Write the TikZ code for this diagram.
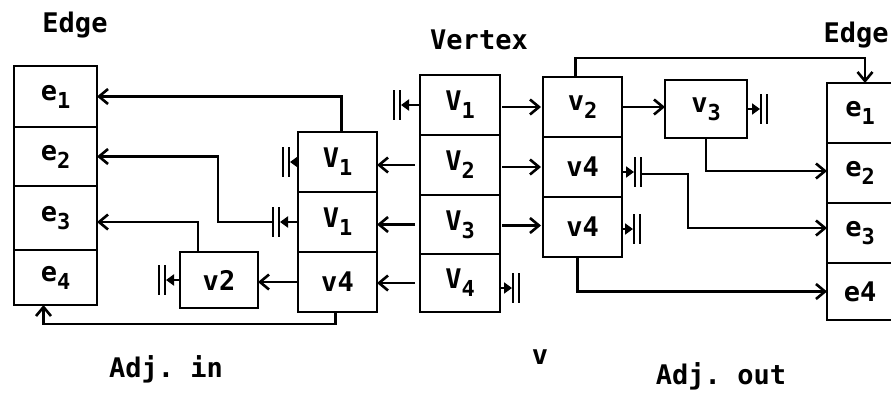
\documentclass[tikz,border=0pt]{standalone}
\usepackage{fontspec}
\setmonofont{DejaVu Sans Mono}
\usetikzlibrary{arrows.meta}
\newcommand{\lowr}[1]{\raisebox{-0.3em}{\fontsize{22}{22}\selectfont #1}}
\newcommand{\cellnode}[6]{\node[cell,minimum width=#4pt,minimum height=#5pt] (#1) at (#2,#3) {#6};}
\newcommand{\barsl}[1]{\draw[bar] ([xshift=-1pt]#1) +(0,-15) -- +(0,15); \draw[bar] ([xshift=-7pt]#1) +(0,-15) -- +(0,15);}
\newcommand{\barsr}[1]{\draw[bar] ([xshift=1pt]#1) +(0,-15) -- +(0,15); \draw[bar] ([xshift=7pt]#1) +(0,-15) -- +(0,15);}
\begin{document}
\begin{tikzpicture}[x=1pt,y=-1pt,
  cell/.style={draw,line width=2.8pt,anchor=north west,inner sep=0pt,outer sep=0pt,font=\ttfamily\bfseries\fontsize{27}{27}\selectfont},
  lbl/.style={font=\ttfamily\bfseries\fontsize{27}{27}\selectfont,inner sep=0pt},
  arr/.style={line width=2.6pt,-{Straight Barb[length=9pt,width=15pt,line width=2.6pt]}},
  narr/.style={line width=2.6pt,-{Triangle[length=8pt,width=11pt]}},
  bar/.style={line width=2.8pt},
]
\useasboundingbox (0,0) rectangle (891,399);
\clip (0,0) rectangle (891,399);

% Edge (left)
\cellnode{e1}{14}{66}{83}{61}{e\lowr{1}}
\cellnode{e2}{14}{127}{83}{59}{e\lowr{2}}
\cellnode{e3}{14}{186}{83}{64}{e\lowr{3}}
\cellnode{e4}{14}{250}{83}{55}{e\lowr{4}}

% Adj. in
\cellnode{a1}{298}{132}{79}{60}{V\lowr{1}}
\cellnode{a2}{298}{192}{79}{60}{V\lowr{1}}
\cellnode{a3}{298}{252}{79}{60}{v4}
\cellnode{vb}{180}{252}{78}{56}{v2}

% Vertex
\cellnode{V1}{420}{75}{80}{60}{V\lowr{1}}
\cellnode{V2}{420}{135}{80}{60}{V\lowr{2}}
\cellnode{V3}{420}{195}{80}{59}{V\lowr{3}}
\cellnode{V4}{420}{254}{80}{58}{V\lowr{4}}

% Adj. out
\cellnode{o1}{543}{77}{79}{60}{v\lowr{2}}
\cellnode{o2}{543}{137}{79}{60}{v4}
\cellnode{o3}{543}{197}{79}{60}{v4}
\cellnode{w3}{665}{80}{82}{58}{v\lowr{3}}

% Edge (right)
\cellnode{r1}{827}{83}{66}{60}{e\lowr{1}}
\cellnode{r2}{827}{143}{66}{60}{e\lowr{2}}
\cellnode{r3}{827}{203}{66}{60}{e\lowr{3}}
\cellnode{r4}{827}{263}{66}{57}{e4}

% labels
\node[lbl] (tE1) at (75,25) {Edge};
\node[lbl] (tV) at (479,40) {Vertex};
\node[lbl] (tE2) at (856,35) {Edge};
\node[lbl] (tv) at (540,357) {v};
\node[lbl] (tin) at (166,369) {Adj. in};
\node[lbl] (tout) at (721,376) {Adj. out};

% null coordinates
\coordinate (nA1) at (290,162);
\coordinate (nA2) at (280,222);
\coordinate (nvb) at (166,280);
\coordinate (nV1) at (401,105);
\coordinate (nV4) at (512,288);
\coordinate (nw3) at (760,109);
\coordinate (no2) at (634,172);
\coordinate (no3) at (633,229);
\coordinate (k2) at (218,222);
\coordinate (k3) at (688,174);

% Adj. in connectors
\draw[arr] ([xshift=4pt]a1.north) |- (e1.east);
\draw[narr] (a1.west) -- (nA1); \barsl{nA1}
\draw[narr] (a2.west) -- (nA2); \barsl{nA2}
\draw[arr] ([xshift=-7pt]nA2) -- (k2) |- (e2.east);
\draw[arr] ([xshift=-21pt]vb.north) |- ([yshift=-4pt]e3.east);
\draw[arr] ([xshift=-2pt]a3.south) -- ++(0,12) -| ([xshift=-12pt]e4.south);
\draw[narr] (vb.west) -- (nvb); \barsl{nvb}
\draw[arr] (a3.west) -- (a3.west -| vb.east);

% Vertex connectors
\draw[narr] (V1.west) -- (nV1); \barsl{nV1}
\draw[arr,shorten <=5pt] (V2.west) -- (V2.west -| a1.east);
\draw[arr,shorten <=5pt] (V3.west) -- (V3.west -| a2.east);
\draw[arr,shorten <=5pt] (V4.west) -- (V4.west -| a3.east);
\draw[narr] ([yshift=-5pt]V4.east) -- (nV4); \barsr{nV4}
\draw[arr,shorten <=2pt,shorten >=2pt] ([yshift=-2pt]V1.east) -- ([yshift=-2pt]V1.east -| o1.west);
\draw[arr,shorten <=2pt,shorten >=2pt] ([yshift=-2pt]V2.east) -- ([yshift=-2pt]V2.east -| o2.west);
\draw[arr,shorten <=2pt,shorten >=2pt] ([yshift=-1pt]V3.east) -- ([yshift=-1pt]V3.east -| o3.west);

% Adj. out connectors
\draw[arr] ([xshift=-7pt]o1.north) -- ++(0,-19) -| ([xshift=5pt]r1.north);
\draw[arr] (o1.east) -- (o1.east -| w3.west);
\draw[narr] (w3.east) -- (nw3); \barsr{nw3}
\draw[arr] (w3.south) |- ([yshift=2pt]r2.west);
\draw[narr] ([yshift=-5pt]o2.east) -- (no2); \barsr{no2}
\draw[arr] ([xshift=7pt,yshift=-2pt]no2) -- (k3) |- ([yshift=5pt]r3.west);
\draw[narr] ([yshift=-2pt]o3.east) -- (no3); \barsr{no3}
\draw[arr] ([xshift=-5pt]o3.south) |- (r4.west);
\end{tikzpicture}
\end{document}
